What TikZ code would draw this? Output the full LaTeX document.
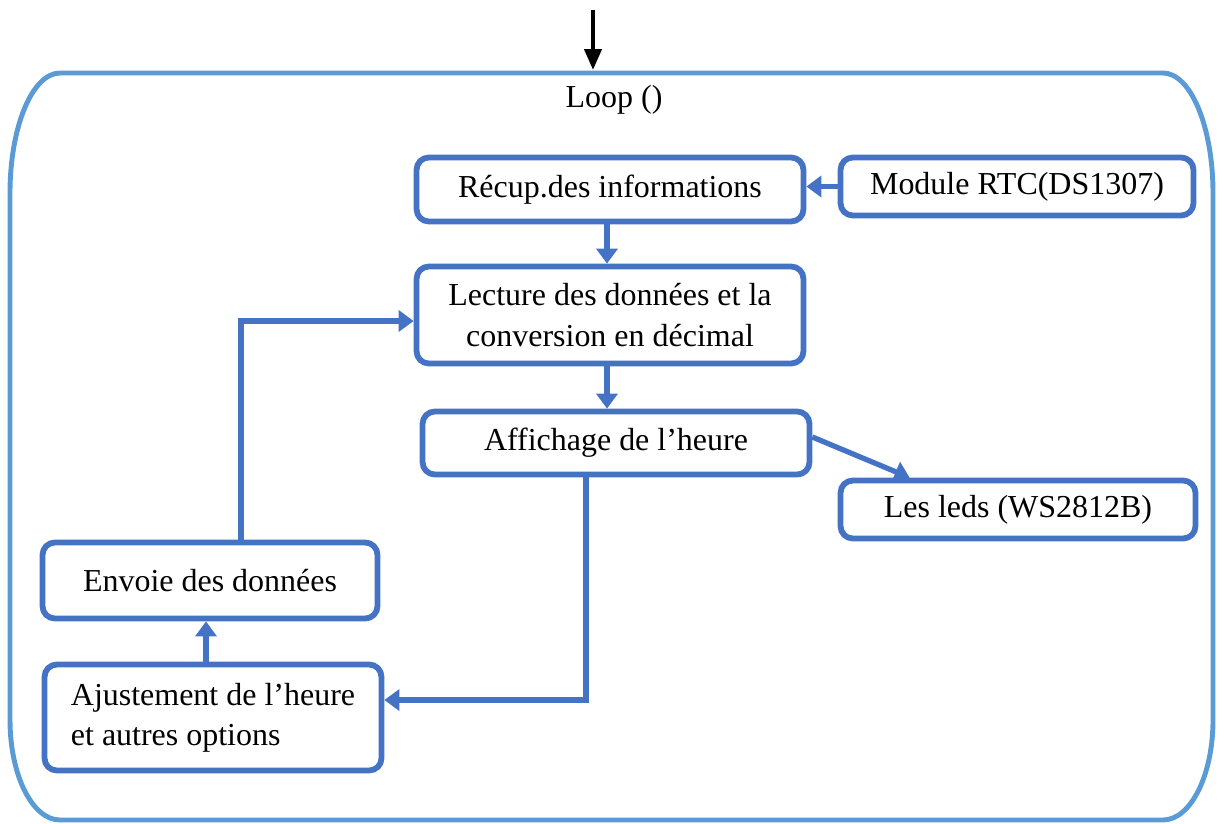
\documentclass[tikz,border=0pt]{standalone}
\usepackage{fontspec}
\setmainfont{Liberation Serif}
\usetikzlibrary{positioning, arrows.meta}
\definecolor{boxblue}{HTML}{4472C4}
\definecolor{loopblue}{HTML}{5B9BD5}

\begin{document}
\begin{tikzpicture}[x=0.02cm, y=-0.02cm,
	box/.style={draw=boxblue, line width=3.3pt, rounded corners=7pt, inner sep=0pt, font=\fontsize{18.2}{23}\selectfont},
	conn/.style={draw=boxblue, line width=3pt, -{Triangle[length=0.3cm, width=0.42cm]}}]
\useasboundingbox (0,0) rectangle (1220,823);
\draw[loopblue, line width=2.8pt] (60,73) -- (1163,73)
	arc[start angle=90, end angle=0, x radius=1cm, y radius=2.4cm] -- (1213,720)
	arc[start angle=0, end angle=-90, x radius=1cm, y radius=2cm] -- (60,820)
	arc[start angle=270, end angle=180, x radius=1cm, y radius=2cm] -- (10,193)
	arc[start angle=180, end angle=90, x radius=1cm, y radius=2.4cm];
\coordinate (entree) at (593,10);
\coordinate (loopin) at (593,70);
\draw[line width=2.4pt, -{Triangle[length=0.42cm, width=0.34cm]}] (entree) -- (loopin);
\node[font=\fontsize{18.2}{23}\selectfont] (loop) at (614,100) {Loop ()};

\node[box, minimum width=7.74cm, minimum height=1.28cm] (recup) at (610,189.5) {Récup.des informations};
\node[box, minimum width=7.06cm, minimum height=1.16cm] (rtc) at (1017,186.5) {Module RTC(DS1307)};
\node[box, minimum width=7.74cm, minimum height=1.94cm, align=center] (lecture) at (610,315) {Lecture des données et la\\conversion en décimal};
\node[box, minimum width=7.74cm, minimum height=1.26cm] (affich) at (616,443) {Affichage de l’heure};
\node[box, minimum width=7.1cm, minimum height=1.16cm] (leds) at (1018,509.5) {Les leds (WS2812B)\hspace{0.4cm}};
\node[box, minimum width=6.7cm, minimum height=1.52cm] (envoi) at (210,580.5) {Envoie des données};
\node[box, minimum width=6.74cm, minimum height=2.12cm, align=left] (ajust) at (213,717.5) {Ajustement de l’heure\\et autres options};

\draw[conn] (rtc.west) -- (recup.east |- rtc.west);
\draw[conn] ([xshift=-0.06cm]recup.south) -- ([xshift=-0.06cm]recup.south |- lecture.north);
\draw[conn] ([xshift=-0.06cm]lecture.south) -- ([xshift=-0.06cm]lecture.south |- affich.north);
\draw[conn] ([yshift=0.12cm]affich.east) -- ([xshift=1.44cm]leds.north west);
\draw[conn] ([xshift=-0.6cm]affich.south) |- ([yshift=0.35cm]ajust.east);
\draw[conn] ([xshift=-0.14cm]ajust.north) -- ([xshift=-0.14cm]ajust.north |- envoi.south);
\draw[conn] ([xshift=0.62cm]envoi.north) |- ([yshift=-0.12cm]lecture.west);
\end{tikzpicture}
\end{document}
